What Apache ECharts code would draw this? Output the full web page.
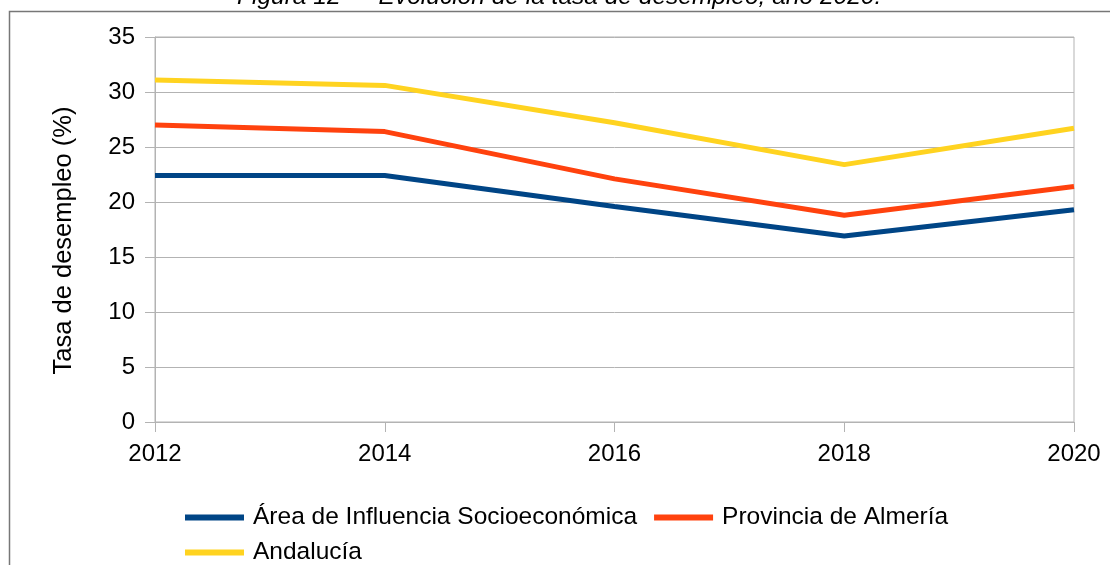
<!DOCTYPE html>
<html>
<head>
<meta charset="utf-8">
<script src="https://cdn.jsdelivr.net/npm/echarts@6/dist/echarts.min.js"></script>
<style>
  html, body { margin: 0; padding: 0; background: #fff; }
  #chart { width: 1110px; height: 565px; }
</style>
</head>
<body>
<div id="chart"></div>
<script>
var years = ['2012', '2014', '2016', '2018', '2020'];
var areaInfluencia = [22.4, 22.4, 19.6, 16.9, 19.3];
var provinciaAlmeria = [27.0, 26.4, 22.1, 18.8, 21.4];
var andalucia = [31.1, 30.6, 27.2, 23.4, 26.7];
var seriesNames = ['Área de Influencia Socioeconómica', 'Provincia de Almería', 'Andalucía'];
var yTicks = { min: 0, max: 35, interval: 5 };

var chart = echarts.init(document.getElementById('chart'));

// both legend rows share this look
var legendBase = {
  left: 185,
  padding: 0,
  icon: 'rect',
  itemWidth: 59,
  itemHeight: 6,
  itemGap: 17,
  textStyle: {
    color: '#000',
    fontSize: 24.5,
    lineHeight: 14,
    padding: [0, 0, 0, 4]
  }
};

var option = {
  backgroundColor: '#fff',
  animation: false,
  textStyle: { fontFamily: 'Liberation Sans' },
  graphic: [
    {
      // caption that is cut by the top edge
      type: 'text',
      left: 237,
      top: -15,
      style: {
        text: 'Figura 12 — Evolución de la tasa de desempleo, año 2020.',
        font: 'italic 24.5px "Liberation Sans"',
        fill: '#000'
      }
    },
    {
      // outer frame
      type: 'rect',
      shape: { x: 9.5, y: 11.5, width: 1200, height: 700 },
      style: { fill: null, stroke: '#777', lineWidth: 1.5 }
    }
  ],
  grid: {
    left: 155,
    right: 36,
    top: 37,
    bottom: 143,
    show: true,
    borderColor: '#b3b3b3',
    borderWidth: 1,
    outerBoundsMode: 'none'
  },
  legend: [
    Object.assign({}, legendBase, { data: [seriesNames[0], seriesNames[1]], top: 505 }),
    Object.assign({}, legendBase, { data: [seriesNames[2]], top: 540 })
  ],
  xAxis: {
    type: 'category',
    boundaryGap: false,
    data: years,
    axisLine: { show: true, lineStyle: { color: '#b3b3b3' } },
    axisTick: { show: true, length: 10, alignWithLabel: true, lineStyle: { color: '#b3b3b3' } },
    axisLabel: { color: '#000', fontSize: 24, margin: 20 },
    splitLine: { show: false }
  },
  yAxis: {
    type: 'value',
    min: yTicks.min,
    max: yTicks.max,
    interval: yTicks.interval,
    name: 'Tasa de desempleo (%)',
    nameLocation: 'middle',
    nameRotate: 90,
    nameGap: 78,
    nameTextStyle: { color: '#000', fontSize: 25.5, padding: [0, 22, 0, 0] },
    axisLine: { show: true, lineStyle: { color: '#b3b3b3' } },
    axisTick: { show: true, length: 10, lineStyle: { color: '#b3b3b3' } },
    axisLabel: { color: '#000', fontSize: 24, margin: 20 },
    splitLine: { show: true, lineStyle: { color: '#b3b3b3' } }
  },
  series: [
    {
      name: seriesNames[0],
      type: 'line',
      data: areaInfluencia,
      color: '#004586',
      symbol: 'none',
      lineStyle: { width: 5 }
    },
    {
      name: seriesNames[1],
      type: 'line',
      data: provinciaAlmeria,
      color: '#ff420e',
      symbol: 'none',
      lineStyle: { width: 5 }
    },
    {
      name: seriesNames[2],
      type: 'line',
      data: andalucia,
      color: '#ffd320',
      symbol: 'none',
      lineStyle: { width: 5 }
    }
  ]
};

chart.setOption(option);
</script>
</body>
</html>
